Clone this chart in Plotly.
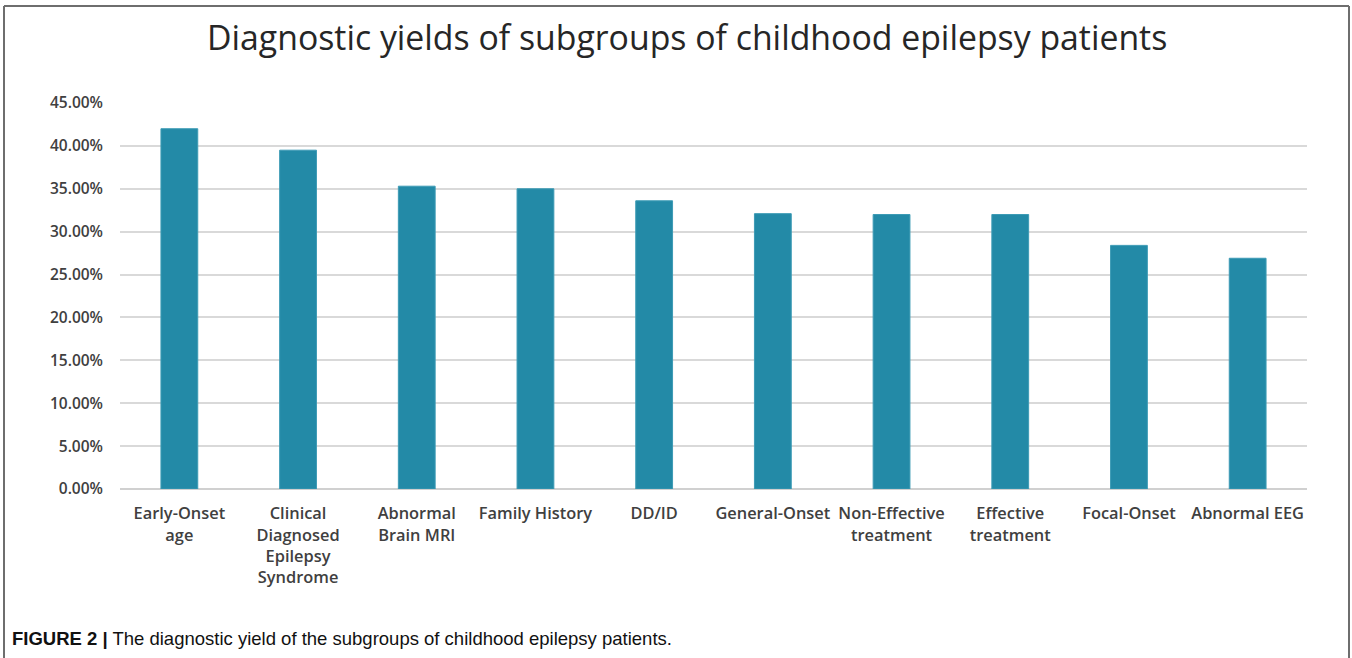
import plotly.graph_objects as go

categories = ["Early-Onset<br>age", "Clinical<br>Diagnosed<br>Epilepsy<br>Syndrome", "Abnormal<br>Brain MRI",
              "Family History", "DD/ID", "General-Onset", "Non-Effective<br>treatment",
              "Effective<br>treatment", "Focal-Onset", "Abnormal EEG"]
yields = [0.420, 0.395, 0.353, 0.350, 0.336, 0.321, 0.320, 0.320, 0.284, 0.269]
tick_vals = [0, 0.05, 0.10, 0.15, 0.20, 0.25, 0.30, 0.35, 0.40, 0.45]

W, H = 1352, 658
L, R, T, B = 120, 45, 103, 169
pw, ph = W - L - R, H - T - B

def px(x):
    return (x - L) / pw

def py(y):
    return (H - B - y) / ph

fig = go.Figure(go.Bar(
    x=categories, y=yields,
    marker=dict(color="#238aa7", line=dict(color="#3d9bb5", width=1)),
    width=0.31,
))

fig.update_layout(
    width=W, height=H,
    margin=dict(l=L, r=R, t=T, b=B),
    paper_bgcolor="white", plot_bgcolor="white",
    showlegend=False,
    font=dict(family="Open Sans", color="#404040"),
    xaxis=dict(showgrid=False, showline=False, ticks="", tickfont=dict(size=16.4, color="#404040", family="Open Sans", weight=600),
               ticklabelstandoff=13, tickangle=0, range=[-0.5, 9.5]),
    yaxis=dict(range=[0, 0.45], tickvals=tick_vals, tickformat=".2%", showgrid=True,
               gridcolor="#d9d9d9", gridwidth=1.5, zeroline=True, zerolinecolor="#d0d0d0", zerolinewidth=1.5,
               showline=False, ticks="", tickfont=dict(size=15.5, color="#404040", family="Open Sans", weight=600),
               ticklabelstandoff=16),
)

fig.add_annotation(text="Diagnostic yields of subgroups of childhood epilepsy patients",
                   xref="paper", yref="paper", x=px(687), y=py(37), xanchor="center", yanchor="middle",
                   showarrow=False, font=dict(size=33.8, color="#262626", family="Open Sans"))

fig.add_annotation(text="<b>FIGURE 2 |</b> The diagnostic yield of the subgroups of childhood epilepsy patients.",
                   xref="paper", yref="paper", x=px(10), y=py(638), xanchor="left", yanchor="middle",
                   showarrow=False, font=dict(size=18.5, color="#111111", family="Liberation Sans"))

frame = dict(color="#6e6e6e", width=2)
fig.add_shape(type="line", xref="paper", yref="paper", x0=px(4), x1=px(1349), y0=py(6), y1=py(6), line=frame)
fig.add_shape(type="line", xref="paper", yref="paper", x0=px(4), x1=px(4), y0=py(6), y1=py(660), line=frame)
fig.add_shape(type="line", xref="paper", yref="paper", x0=px(1349), x1=px(1349), y0=py(6), y1=py(660), line=frame)

fig.write_html("out.html")
